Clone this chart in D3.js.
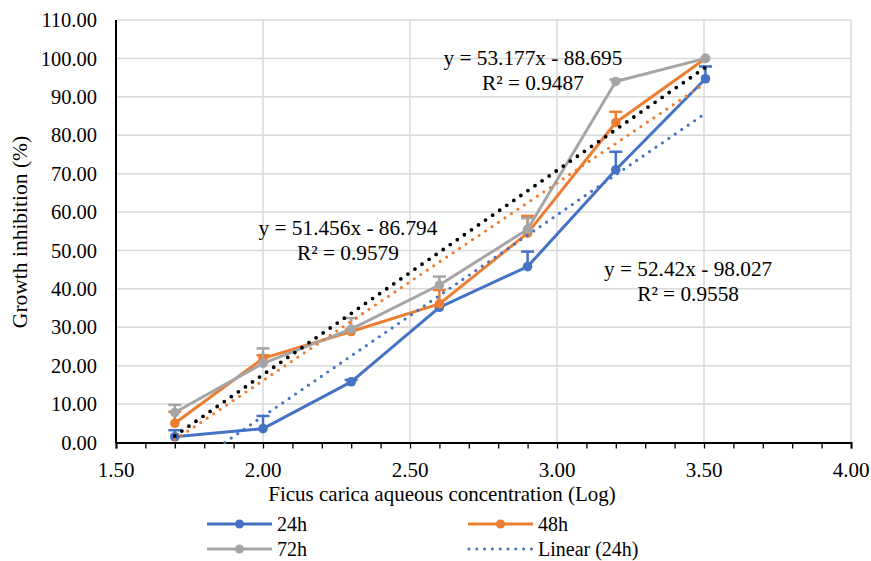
<!DOCTYPE html>
<html><head><meta charset="utf-8">
<script src="https://cdn.jsdelivr.net/npm/d3@7"></script>
<style>
body{margin:0;background:#fff;}
</style></head>
<body><svg id="c" width="871" height="561"></svg>
<script>
const xValues = [1.70, 2.00, 2.30, 2.60, 2.90, 3.20, 3.505];
const series24 = [1.5, 3.6, 15.8, 35.2, 45.8, 71.0, 94.7];
const err24    = [1.7, 3.3, 0.5, 0.0, 3.9, 4.7, 3.2];
const series48 = [5.0, 21.9, 28.9, 36.1, 54.5, 83.3, 100.0];
const err48    = [3.0, 0.8, 0.5, 3.6, 4.5, 2.8, 0.0];
const series72 = [7.8, 20.6, 29.5, 41.0, 55.5, 94.0, 100.0];
const err72    = [2.0, 3.9, 2.9, 2.2, 2.9, 0.5, 0.0];
const xTicks = [1.5, 2.0, 2.5, 3.0, 3.5, 4.0];
const yTicks = [0,10,20,30,40,50,60,70,80,90,100,110];
const trend24 = [52.42, -98.027];
const trend48 = [51.456, -86.794];
const trend72 = [53.177, -88.695];
const eqLabels = [
  {l1:"y = 53.177x - 88.695", l2:"R² = 0.9487", x:2.918, y:98.3},
  {l1:"y = 51.456x - 86.794", l2:"R² = 0.9579", x:2.289, y:54.0},
  {l1:"y = 52.42x - 98.027", l2:"R² = 0.9558", x:3.446, y:43.4}
];
const legendItems = ["24h","48h","72h","Linear (24h)"];

const svg = d3.select("#c");
const FONT = '"Liberation Serif", "Times New Roman", Tinos, serif';
const x = d3.scaleLinear().domain([1.5,4]).range([116,851]);
const y = d3.scaleLinear().domain([0,110]).range([442.5,20]);

// grid
svg.append("g").selectAll("line").data(yTicks.filter(d=>d>0)).join("line")
  .attr("x1",x(1.5)).attr("x2",x(4)).attr("y1",d=>y(d)).attr("y2",d=>y(d))
  .attr("stroke","#d9d9d9").attr("stroke-width",1.5);
svg.append("g").selectAll("line").data(xTicks.filter(d=>d>1.5)).join("line")
  .attr("x1",d=>x(d)).attr("x2",d=>x(d)).attr("y1",y(0)).attr("y2",y(110))
  .attr("stroke","#d9d9d9").attr("stroke-width",1.5);

// axes
const xAxis = d3.axisBottom(x).tickValues(d3.range(15,41).map(d=>d/10)).tickSize(6).tickFormat("");
const gx = svg.append("g").attr("transform",`translate(0,${y(0)})`).call(xAxis);
gx.select(".domain").attr("stroke","#000").attr("stroke-width",2);
gx.selectAll(".tick line").attr("stroke","#000").attr("stroke-width",1.3);
svg.append("g").selectAll("text").data(xTicks).join("text")
  .attr("x",d=>x(d)).attr("y",477).attr("text-anchor","middle").style("font-family",FONT)
  .attr("font-size",21).text(d=>d.toFixed(2));
svg.append("line").attr("x1",x(1.5)).attr("x2",x(1.5)).attr("y1",y(0)+1).attr("y2",y(110))
  .attr("stroke","#000").attr("stroke-width",2);
svg.append("g").selectAll("text").data(yTicks).join("text")
  .attr("x",97).attr("y",d=>y(d)).attr("dy","0.35em").attr("text-anchor","end").style("font-family",FONT)
  .attr("font-size",20.5).text(d=>d.toFixed(2));

// axis titles
svg.append("text").attr("x",442).attr("y",501).attr("text-anchor","middle").style("font-family",FONT)
  .attr("font-size",21).text("Ficus carica aqueous concentration (Log)");
svg.append("text").attr("transform",`translate(27,232) rotate(-90)`).attr("text-anchor","middle")
  .style("font-family",FONT).attr("font-size",21.5).text("Growth inhibition (%)");

const COLORS = {b:"#4472C4", o:"#ED7D31", g:"#A5A5A5"};
const line = d3.line().x(d=>x(d[0])).y(d=>y(d[1]));

function drawSeries(vals, errs, color){
  const pts = xValues.map((xv,i)=>[xv, vals[i]]);
  const g = svg.append("g");
  g.append("path").datum(pts).attr("d",line).attr("fill","none")
    .attr("stroke",color).attr("stroke-width",3).attr("stroke-linejoin","round");
  pts.forEach((p,i)=>{
    if(errs[i] > 0){
      g.append("line").attr("x1",x(p[0])).attr("x2",x(p[0])).attr("y1",y(p[1])).attr("y2",y(p[1]+errs[i]))
        .attr("stroke",color).attr("stroke-width",2.5);
      g.append("line").attr("x1",x(p[0])-6.5).attr("x2",x(p[0])+6.5).attr("y1",y(p[1]+errs[i])).attr("y2",y(p[1]+errs[i]))
        .attr("stroke",color).attr("stroke-width",2.5);
    }
  });
  g.selectAll("circle").data(pts).join("circle")
    .attr("cx",d=>x(d[0])).attr("cy",d=>y(d[1])).attr("r",4.8).attr("fill",color);
}
drawSeries(series24, err24, COLORS.b);
drawSeries(series48, err48, COLORS.o);
drawSeries(series72, err72, COLORS.g);

function drawTrend(coef, color, w, gap){
  const x0 = Math.max(xValues[0], -coef[1]/coef[0]);
  const x1 = xValues[xValues.length-1];
  const pts = [[x0, coef[0]*x0+coef[1]], [x1, coef[0]*x1+coef[1]]];
  svg.append("path").datum(pts).attr("d",line).attr("fill","none")
    .attr("stroke",color).attr("stroke-width",w).attr("stroke-linecap","round")
    .attr("stroke-dasharray",`0 ${gap}`);
}
drawTrend(trend24, COLORS.b, 3.2, 7.8);
drawTrend(trend48, COLORS.o, 3.2, 7.8);
drawTrend(trend72, "#000", 3.8, 8.6);

// equation labels
eqLabels.forEach(e=>{
  const t = svg.append("text").attr("text-anchor","middle").style("font-family",FONT).attr("font-size",21.3);
  t.append("tspan").attr("x",x(e.x)).attr("y",y(e.y)).text(e.l1);
  t.append("tspan").attr("x",x(e.x)).attr("dy",25).text(e.l2);
});

// legend
const legPos = [[207,524],[468,524],[207,549],[468,549]];
const legColors = [COLORS.b, COLORS.o, COLORS.g, COLORS.b];
legendItems.forEach((name,i)=>{
  const [lx,ly] = legPos[i];
  const g = svg.append("g");
  if(i<3){
    g.append("line").attr("x1",lx).attr("x2",lx+65).attr("y1",ly).attr("y2",ly)
      .attr("stroke",legColors[i]).attr("stroke-width",3);
    g.append("circle").attr("cx",lx+32.5).attr("cy",ly).attr("r",4.5).attr("fill",legColors[i]);
  } else {
    g.append("line").attr("x1",lx+1).attr("x2",lx+64).attr("y1",ly).attr("y2",ly)
      .attr("stroke",legColors[i]).attr("stroke-width",3).attr("stroke-linecap","round")
      .attr("stroke-dasharray","0 7.8");
  }
  g.append("text").attr("x",lx+70).attr("y",ly).attr("dy","0.35em").style("font-family",FONT).attr("font-size",20).text(name);
});
</script></body></html>
